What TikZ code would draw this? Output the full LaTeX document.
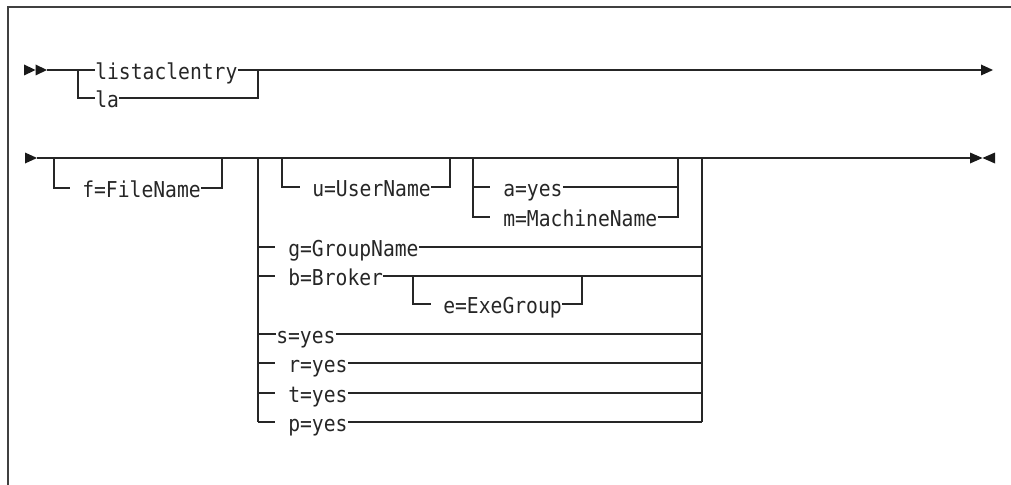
\documentclass[tikz,border=0pt]{standalone}
\usepackage{fontspec}
\setmonofont[FakeStretch=0.9]{DejaVu Sans Mono}
\begin{document}
\begin{tikzpicture}[x=0.75pt,y=-0.75pt,
  rail/.style={line width=1.15pt,draw=black!85,line join=miter},
  lbl/.style={font=\ttfamily\fontsize{16.4}{19}\selectfont,inner sep=0pt,anchor=west,
              text height=16pt,text depth=2pt,text=black!85},
  tip/.style={fill=black!90},
  frame/.style={line width=1.5pt,draw=black!75}]
\useasboundingbox (0,0) rectangle (1011,485);
% frame
\coordinate (ftr) at (1011,7);
\coordinate (ftl) at (8,7);
\coordinate (fbl) at (8,485);
\draw[frame] (ftr) -- (ftl) -- (fbl);

% ---------- row 1 ----------
\coordinate (r1s) at (47,70);
\coordinate (r1b) at (78,70);
\coordinate (r1m) at (258,70);
\coordinate (r1e) at (981,70);
\node[lbl] (listac) at (95,70) {listaclentry};
\node[lbl] (la) at (95,98) {la};
\fill[tip] (r1s) -- ++(-11.5,-5.5) -- ++(0,11) -- cycle;
\fill[tip] ([xshift=-8.6pt]r1s) -- ++(-11.5,-5.5) -- ++(0,11) -- cycle;
\draw[rail] (r1s) -- (listac.west);
\draw[rail] (listac.east) -- (r1e);
\draw[rail] (r1b) |- (la.west);
\draw[rail] (la.east) -| (r1m);
\fill[tip] (r1e) -- ++(0,-5.5) -- ++(12,5.5) -- ++(-12,5.5) -- cycle;

% ---------- row 2 ----------
\coordinate (r2s) at (37,158);
\coordinate (r2e) at (970,158);
\fill[tip] (r2s) -- ++(-12,-5.5) -- ++(0,11) -- cycle;
\draw[rail] (r2s) -- (r2e);
\fill[tip] (r2e) -- ++(0,-5.5) -- ++(12.5,5.5) -- ++(-12.5,5.5) -- cycle;
\fill[tip] ([xshift=18.75pt]r2e) -- ++(0,-5.5) -- ++(-12.5,5.5) -- ++(12.5,5.5) -- cycle;

% f=FileName
\coordinate (fL) at (54,158);
\coordinate (fLt) at (70,188);
\coordinate (fR) at (222,158);
\node[lbl] (f) at (82,188) {f=FileName};
\draw[rail] (fL) |- (fLt);
\draw[rail] (f.east) -| (fR);

% main choice rails
\coordinate (cL) at (258,158);
\coordinate (cR) at (702,158);
\coordinate (cLb) at (258,422);
\coordinate (cRb) at (702,422);
\draw[rail] (cL) -- (cLb);
\draw[rail] (cR) -- (cRb);

% u=UserName
\coordinate (uL) at (282,158);
\coordinate (uLt) at (300,187);
\coordinate (uR) at (450,158);
\node[lbl] (u) at (312,187) {u=UserName};
\draw[rail] (uL) |- (uLt);
\draw[rail] (u.east) -| (uR);

% a=yes / m=MachineName
\coordinate (aL) at (473,158);
\coordinate (aLa) at (473,187);
\coordinate (aLat) at (490,187);
\coordinate (aLmt) at (490,217);
\coordinate (aR) at (678,158);
\coordinate (aRa) at (678,187);
\node[lbl] (a) at (503,187) {a=yes};
\node[lbl] (m) at (503,217) {m=MachineName};
\draw[rail] (aL) |- (aLmt);
\draw[rail] (aLa) -- (aLat);
\draw[rail] (a.east) -- (aRa);
\draw[rail] (m.east) -| (aR);

% g=GroupName
\coordinate (gL) at (258,247);
\coordinate (gLt) at (275,247);
\coordinate (gR) at (702,247);
\node[lbl] (g) at (288,247) {g=GroupName};
\draw[rail] (gL) -- (gLt);
\draw[rail] (g.east) -- (gR);

% b=Broker
\coordinate (bL) at (258,276);
\coordinate (bLt) at (275,276);
\coordinate (bR) at (702,276);
\node[lbl] (b) at (288,276) {b=Broker};
\draw[rail] (bL) -- (bLt);
\draw[rail] (b.east) -- (bR);

% e=ExeGroup
\coordinate (eL) at (413,276);
\coordinate (eLt) at (431,304);
\coordinate (eR) at (582,276);
\node[lbl] (e) at (443,304) {e=ExeGroup};
\draw[rail] (eL) |- (eLt);
\draw[rail] (e.east) -| (eR);

% s=yes
\coordinate (sL) at (258,334);
\coordinate (sR) at (702,334);
\node[lbl] (s) at (276,334) {s=yes};
\draw[rail] (sL) -- (s.west);
\draw[rail] (s.east) -- (sR);

% r=yes
\coordinate (rL) at (258,363);
\coordinate (rLt) at (275,363);
\coordinate (rR) at (702,363);
\node[lbl] (r) at (288,363) {r=yes};
\draw[rail] (rL) -- (rLt);
\draw[rail] (r.east) -- (rR);

% t=yes
\coordinate (tL) at (258,393);
\coordinate (tLt) at (275,393);
\coordinate (tR) at (702,393);
\node[lbl] (t) at (288,393) {t=yes};
\draw[rail] (tL) -- (tLt);
\draw[rail] (t.east) -- (tR);

% p=yes
\coordinate (pLt) at (275,422);
\node[lbl] (p) at (288,422) {p=yes};
\draw[rail] (cLb) -- (pLt);
\draw[rail] (p.east) -- (cRb);
\end{tikzpicture}
\end{document}
